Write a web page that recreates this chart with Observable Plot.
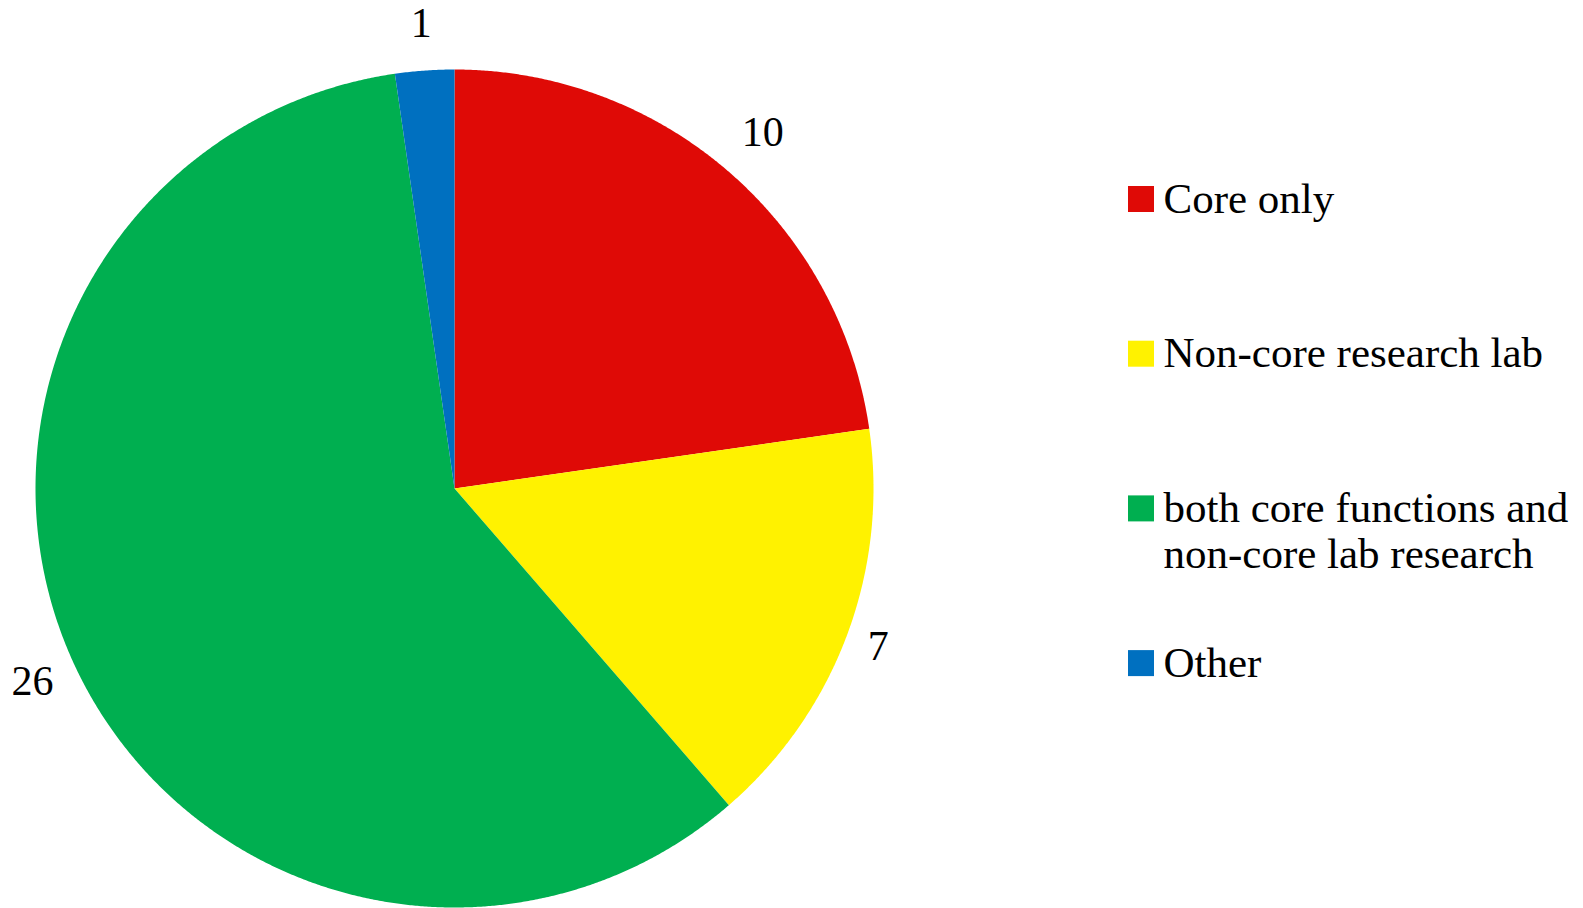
<!DOCTYPE html>
<html><head><meta charset="utf-8">
<script src="https://cdn.jsdelivr.net/npm/d3@7"></script>
<script src="https://cdn.jsdelivr.net/npm/@observablehq/plot@0.6"></script>
<style>body{margin:0;background:#fff}</style>
</head><body><div id="chart"></div>
<script>
// ---- data ----
const categories = ["Core only", "Non-core research lab", "both core functions and\nnon-core lab research", "Other"];
const values = [10, 7, 26, 1];
const colors = ["#DF0A06", "#FFF200", "#00AF50", "#0070C0"];

// ---- layout ----
const W = 1583, H = 908;
const cx = 454, cy = 488, r = 419;
const fs = 42, legFs = 43;

const rows = categories.map((c, i) => ({category: c, value: values[i], color: colors[i]}));
const arcs = d3.pie().sort(null).value(d => d.value)(rows);

// slice polygons
const slicePts = [];
arcs.forEach((a, i) => {
  slicePts.push({k: i, x: cx, y: cy, color: a.data.color});
  const n = Math.max(2, Math.ceil((a.endAngle - a.startAngle) / (Math.PI / 720)));
  for (let j = 0; j <= n; j++) {
    const t = a.startAngle + (a.endAngle - a.startAngle) * j / n;
    slicePts.push({k: i, x: cx + r * Math.sin(t), y: cy - r * Math.cos(t), color: a.data.color});
  }
});

// data labels outside end (box-extent placement)
const gap = 11;
const labels = arcs.map(a => {
  const t = (a.startAngle + a.endAngle) / 2;
  const txt = String(a.data.value);
  const halfW = txt.length * 0.25 * fs, halfH = 0.85 * fs;
  const R = r + gap + Math.abs(Math.sin(t)) * halfW + Math.abs(Math.cos(t)) * halfH;
  return {text: txt, x: cx + R * Math.sin(t), y: cy - R * Math.cos(t)};
});

// legend
const legX = 1128, legSize = 26, legTextX = 1163, legY0 = 212, legStep = 154.7, legLine = 46;
const legRects = rows.map((d, i) => ({color: d.color, x1: legX, x2: legX + legSize, y1: legY0 + i * legStep - legSize, y2: legY0 + i * legStep}));
const legTexts = [];
rows.forEach((d, i) => d.category.split("\n").forEach((line, j) => legTexts.push({text: line, x: legTextX, y: legY0 + i * legStep + j * legLine})));

const chart = Plot.plot({
  width: W, height: H,
  margin: 0,
  x: {type: "identity", axis: null},
  y: {type: "identity", axis: null},
  color: {type: "identity"},
  style: {fontFamily: "'Liberation Serif', 'Times New Roman', serif", background: "#fff"},
  marks: [
    Plot.line(slicePts, {x: "x", y: "y", z: "k", fill: "color", stroke: "none", curve: "linear-closed"}),
    Plot.text(labels, {x: "x", y: "y", text: "text", fontSize: fs, fill: "#000", textAnchor: "middle", lineAnchor: "middle"}),
    Plot.rect(legRects, {x1: "x1", x2: "x2", y1: "y1", y2: "y2", fill: "color"}),
    Plot.text(legTexts, {x: "x", y: "y", text: "text", fontSize: legFs, fill: "#000", textAnchor: "start", lineAnchor: "bottom"})
  ]
});
document.getElementById("chart").appendChild(chart);
</script>
</body></html>
